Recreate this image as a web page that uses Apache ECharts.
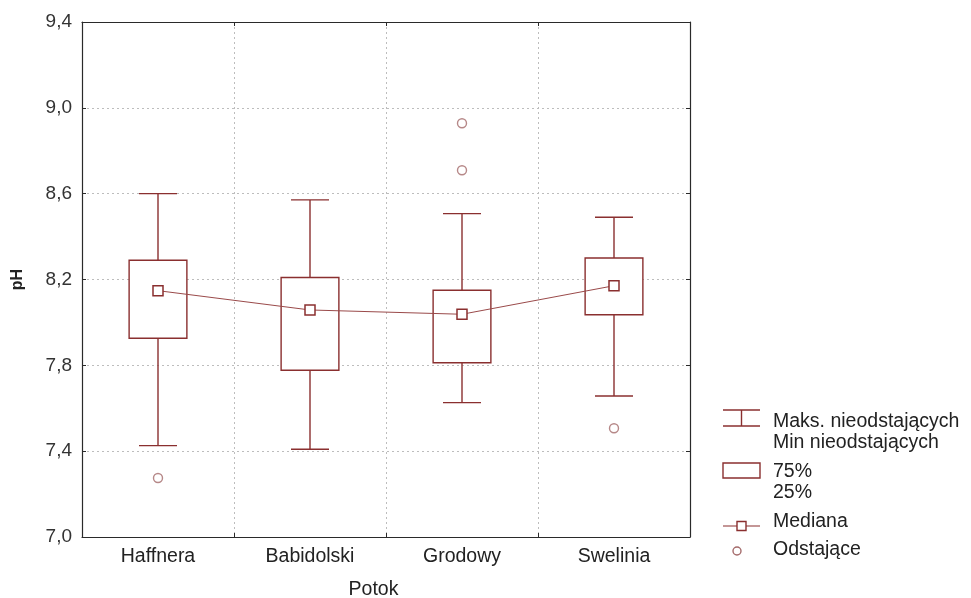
<!DOCTYPE html>
<html>
<head>
<meta charset="utf-8">
<script src="https://cdn.jsdelivr.net/npm/echarts@6/dist/echarts.min.js"></script>
<style>
  html, body { margin: 0; padding: 0; background: #fff; }
  #chart { width: 971px; height: 598px; }
</style>
</head>
<body>
<div id="chart"></div>
<script>
// pH by stream: non-outlier range, quartiles, medians and outliers
const categories = ['Haffnera', 'Babidolski', 'Grodowy', 'Swelinia'];
const whiskerMax = [8.600, 8.571, 8.507, 8.490];
const quartile75 = [8.290, 8.209, 8.150, 8.300];
const medians    = [8.148, 8.058, 8.038, 8.171];
const quartile25 = [7.926, 7.777, 7.812, 8.036];
const whiskerMin = [7.426, 7.409, 7.626, 7.657];
const outlierGroups = ['Haffnera', 'Grodowy', 'Grodowy', 'Swelinia'];
const outlierValues = [7.275, 8.928, 8.709, 7.507];
const yTicks = [7.0, 7.4, 7.8, 8.2, 8.6, 9.0, 9.4];

const FONT = '"Liberation Sans", Arial, sans-serif';
const MARK = '#8a2f2f';
const OUT = '#a46a6a';
const AXIS = '#2a2a2a';
const fmt = v => v.toFixed(1).replace('.', ',');

const boxData = categories.map((c, i) =>
  [i, whiskerMin[i], quartile25[i], quartile75[i], whiskerMax[i]]);
const outlierData = outlierValues.map((v, k) => [outlierGroups[k], v]);

function renderBox(params, api) {
  const i = api.value(0);
  const pMin = api.coord([i, api.value(1)]);
  const pQ1 = api.coord([i, api.value(2)]);
  const pQ3 = api.coord([i, api.value(3)]);
  const pMax = api.coord([i, api.value(4)]);
  const band = api.size([1, 0])[0];
  const bw = band * 0.38;
  const cw = band * 0.25;
  const x = pMin[0];
  const st = { stroke: MARK, lineWidth: 1.4, fill: null };
  return {
    type: 'group',
    children: [
      { type: 'line', shape: { x1: x, y1: pMax[1], x2: x, y2: pQ3[1] }, style: st },
      { type: 'line', shape: { x1: x - cw / 2, y1: pMax[1], x2: x + cw / 2, y2: pMax[1] }, style: st },
      { type: 'line', shape: { x1: x, y1: pQ1[1], x2: x, y2: pMin[1] }, style: st },
      { type: 'line', shape: { x1: x - cw / 2, y1: pMin[1], x2: x + cw / 2, y2: pMin[1] }, style: st },
      { type: 'rect', shape: { x: x - bw / 2, y: pQ3[1], width: bw, height: pQ1[1] - pQ3[1] },
        style: { stroke: MARK, lineWidth: 1.4, fill: '#fff' } }
    ]
  };
}

const chart = echarts.init(document.getElementById('chart'), null, { renderer: 'canvas' });

const legendText = (x, y, t) => ({
  type: 'text', x: x, y: y,
  style: { text: t, font: '19.5px ' + FONT, fill: '#222', verticalAlign: 'middle', align: 'left' }
});

chart.setOption({
  animation: false,
  backgroundColor: '#fff',
  grid: { left: 82, right: 281, top: 22, bottom: 61, outerBoundsMode: 'none', containLabel: false },
  xAxis: [{
    type: 'category',
    data: categories,
    boundaryGap: true,
    axisLine: { lineStyle: { color: AXIS, width: 1.2 } },
    axisTick: { show: true, inside: true, length: 4, lineStyle: { color: AXIS } },
    axisLabel: { fontSize: 19.5, color: '#222', fontFamily: FONT, margin: 10 },
    splitLine: { show: true, lineStyle: { color: '#bdbdbd', type: [2, 3], width: 1 } },
    name: 'Potok',
    nameLocation: 'middle',
    nameGap: 43,
    nameTextStyle: { fontSize: 19.5, color: '#222', fontFamily: FONT, padding: [0, 25, 0, 0] }
  }, {
    type: 'category',
    data: categories,
    position: 'top',
    boundaryGap: true,
    axisLine: { lineStyle: { color: AXIS, width: 1.2 } },
    axisTick: { show: true, inside: true, length: 4, lineStyle: { color: AXIS } },
    axisLabel: { show: false },
    splitLine: { show: false }
  }],
  yAxis: [{
    type: 'value',
    min: 7.0,
    max: 9.4,
    axisLine: { show: true, lineStyle: { color: AXIS, width: 1.2 } },
    axisTick: { show: true, inside: true, length: 4, customValues: yTicks, lineStyle: { color: AXIS } },
    axisLabel: { customValues: yTicks, formatter: fmt, fontSize: 19, color: '#333', fontFamily: FONT, margin: 10 },
    splitLine: { show: true, lineStyle: { color: '#bdbdbd', type: [2, 3], width: 1 } },
    name: 'pH',
    nameLocation: 'middle',
    nameGap: 56,
    nameRotate: 90,
    nameTextStyle: { fontSize: 16, fontWeight: 'bold', color: '#222', fontFamily: FONT }
  }, {
    type: 'value',
    min: 7.0,
    max: 9.4,
    position: 'right',
    axisLine: { show: true, lineStyle: { color: AXIS, width: 1.2 } },
    axisTick: { show: true, inside: true, length: 4, customValues: yTicks, lineStyle: { color: AXIS } },
    axisLabel: { show: false, customValues: yTicks },
    splitLine: { show: false }
  }],
  series: [{
    type: 'custom',
    name: 'box',
    renderItem: renderBox,
    encode: { x: 0, y: [1, 2, 3, 4] },
    data: boxData,
    z: 2
  }, {
    type: 'line',
    name: 'Mediana',
    data: medians,
    symbol: 'rect',
    symbolSize: 10,
    showAllSymbol: true,
    lineStyle: { color: '#9a4a4a', width: 1 },
    itemStyle: { color: '#fff', borderColor: MARK, borderWidth: 1.5 },
    z: 4
  }, {
    type: 'scatter',
    name: 'Odstające',
    data: outlierData,
    symbol: 'circle',
    symbolSize: 9,
    itemStyle: { color: '#fff', borderColor: OUT, borderWidth: 1.4 },
    z: 4
  }],
  graphic: [
    // legend icons
    { type: 'line', shape: { x1: 723, y1: 410, x2: 760, y2: 410 }, style: { stroke: MARK, lineWidth: 1.4 } },
    { type: 'line', shape: { x1: 741.5, y1: 410, x2: 741.5, y2: 426 }, style: { stroke: MARK, lineWidth: 1.4 } },
    { type: 'line', shape: { x1: 723, y1: 426, x2: 760, y2: 426 }, style: { stroke: MARK, lineWidth: 1.4 } },
    { type: 'rect', shape: { x: 723, y: 463, width: 37, height: 15 }, style: { stroke: MARK, lineWidth: 1.4, fill: '#fff' } },
    { type: 'line', shape: { x1: 723, y1: 526, x2: 760, y2: 526 }, style: { stroke: MARK, lineWidth: 1.2 } },
    { type: 'rect', shape: { x: 737, y: 521.5, width: 9, height: 9 }, style: { stroke: MARK, lineWidth: 1.4, fill: '#fff' } },
    { type: 'circle', shape: { cx: 737, cy: 551, r: 4 }, style: { stroke: OUT, lineWidth: 1.4, fill: '#fff' } },
    // legend labels
    legendText(773, 422, 'Maks. nieodstających'),
    legendText(773, 443, 'Min nieodstających'),
    legendText(773, 472, '75%'),
    legendText(773, 493, '25%'),
    legendText(773, 522, 'Mediana'),
    legendText(773, 550, 'Odstające')
  ]
});
</script>
</body>
</html>
